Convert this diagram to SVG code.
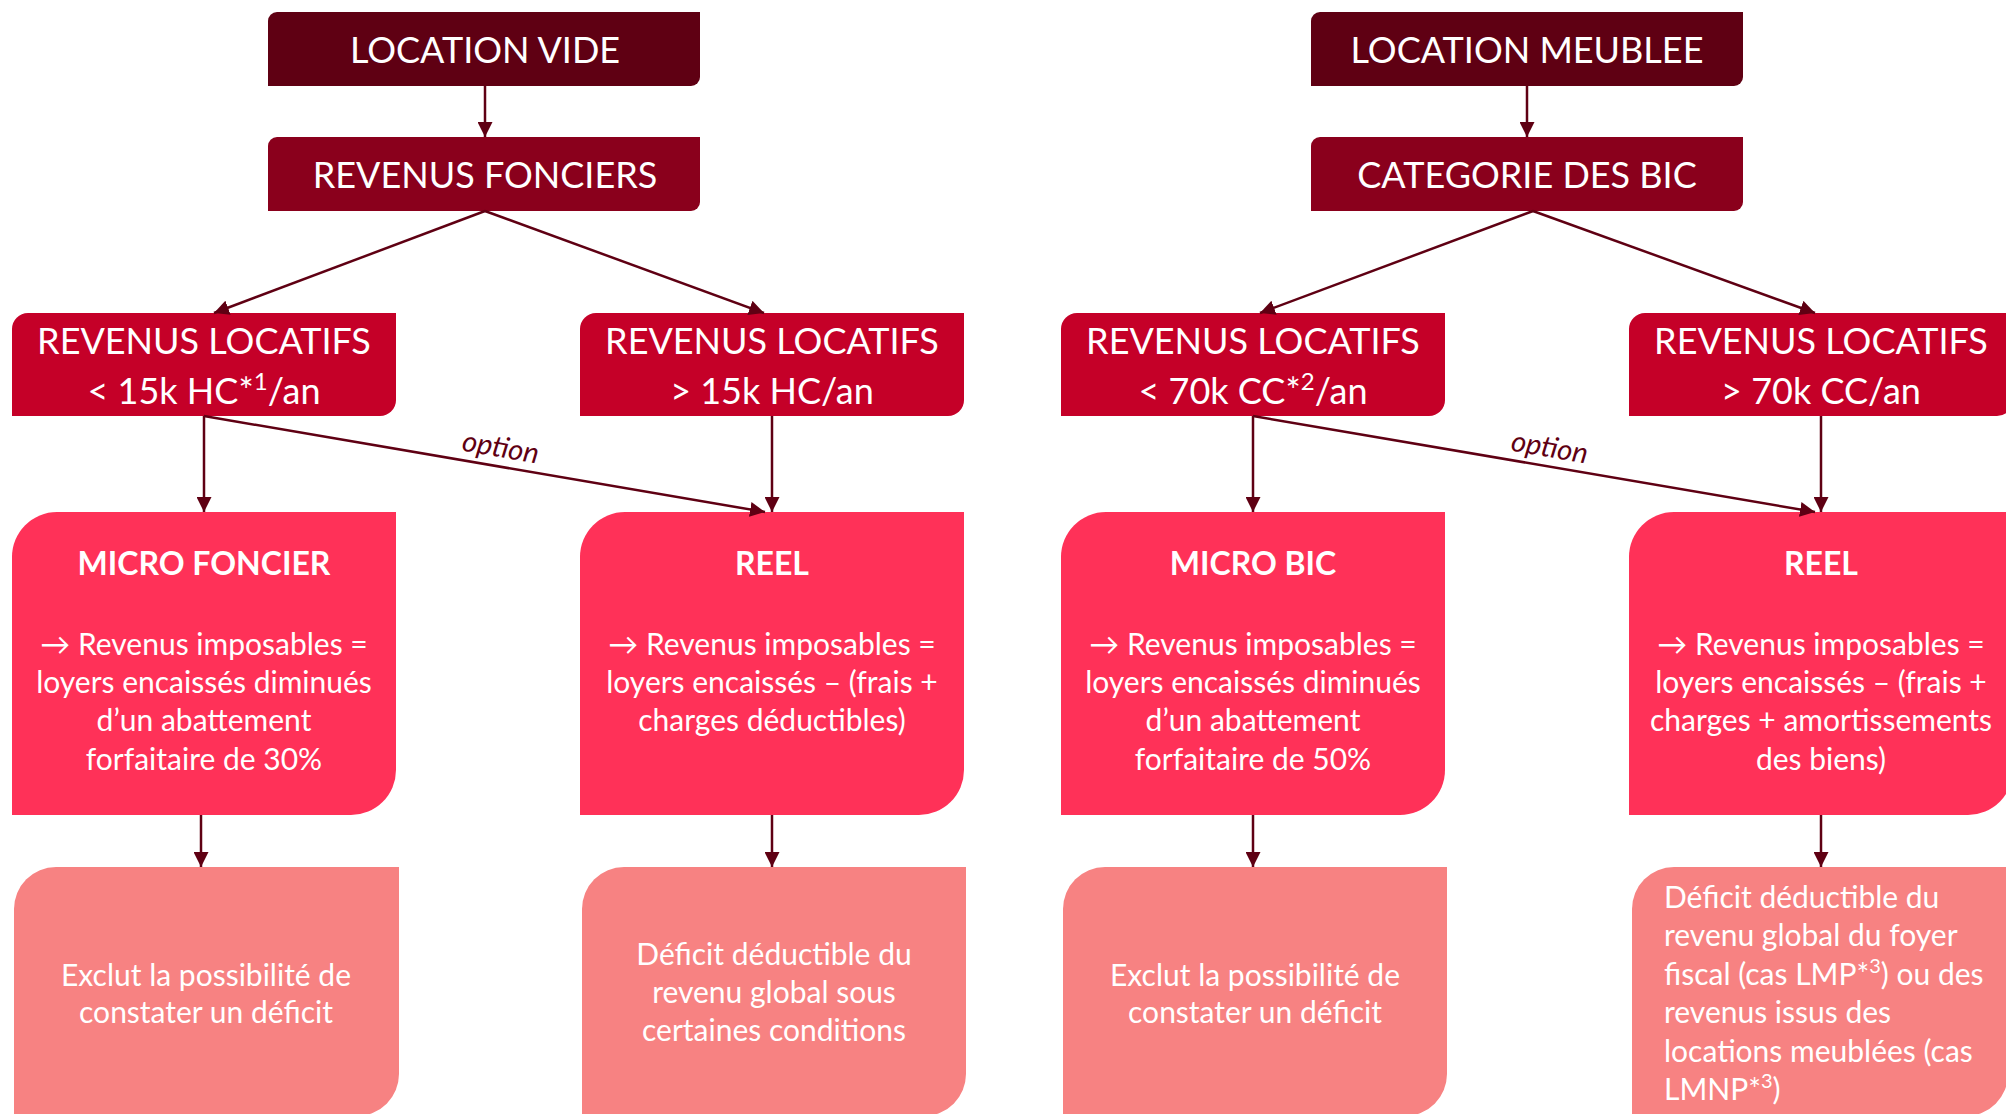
<svg xmlns="http://www.w3.org/2000/svg" width="2006" height="1114" viewBox="0 0 2006 1114">
<style>
text{font-family:Lato,"Open Sans","Liberation Sans",sans-serif;fill:#fff;text-anchor:middle}
.h{font-size:36px}
.t{font-size:32px;font-weight:bold}
.b{font-size:30px}
.l{text-anchor:start}
.o{font-size:29px;font-style:italic;fill:#5f0013}
.c1{fill:#5f0013}.c2{fill:#8a001c}.c3{fill:#c50028}.c4{fill:#ff3158}.c5{fill:#f78282}
.cn line{stroke:#5f0013;stroke-width:2.5;marker-end:url(#ah)}
</style>
<defs>
<marker id="ah" markerUnits="userSpaceOnUse" markerWidth="15" markerHeight="15" viewBox="0 0 15 15" refX="15" refY="7.5" orient="auto">
<path d="M0,0 L15,7.5 L0,15 Z" fill="#5f0013"/>
</marker>
</defs>
<rect width="2006" height="1114" fill="#fff"/>

<g id="location-vide"><path class="c1" d="M277,12 H700 V77 A9,9 0 0 1 691,86 H268 V21 A9,9 0 0 1 277,12 Z"/><text class="h" x="485" y="63">LOCATION VIDE</text></g>
<g id="revenus-fonciers"><path class="c2" d="M277,137 H700 V202 A9,9 0 0 1 691,211 H268 V146 A9,9 0 0 1 277,137 Z"/><text class="h" x="485" y="188">REVENUS FONCIERS</text></g>
<g id="location-meublee"><path class="c1" d="M1320,12 H1743 V77 A9,9 0 0 1 1734,86 H1311 V21 A9,9 0 0 1 1320,12 Z"/><text class="h" x="1527" y="63">LOCATION MEUBLEE</text></g>
<g id="categorie-bic"><path class="c2" d="M1320,137 H1743 V202 A9,9 0 0 1 1734,211 H1311 V146 A9,9 0 0 1 1320,137 Z"/><text class="h" x="1527" y="188">CATEGORIE DES BIC</text></g>

<g id="rl-15-inf"><path class="c3" d="M28,313 H396 V400 A16,16 0 0 1 380,416 H12 V329 A16,16 0 0 1 28,313 Z"/><text class="h" x="204" y="354">REVENUS LOCATIFS</text><text class="h" x="204" y="404">&lt; 15k HC*<tspan font-size="24" dy="-14">1</tspan><tspan dy="14">/an</tspan></text></g>
<g id="rl-15-sup"><path class="c3" d="M596,313 H964 V400 A16,16 0 0 1 948,416 H580 V329 A16,16 0 0 1 596,313 Z"/><text class="h" x="772" y="354">REVENUS LOCATIFS</text><text class="h" x="772" y="404">&gt; 15k HC/an</text></g>
<g id="rl-70-inf"><path class="c3" d="M1077,313 H1445 V400 A16,16 0 0 1 1429,416 H1061 V329 A16,16 0 0 1 1077,313 Z"/><text class="h" x="1253" y="354">REVENUS LOCATIFS</text><text class="h" x="1253" y="404">&lt; 70k CC*<tspan font-size="24" dy="-14">2</tspan><tspan dy="14">/an</tspan></text></g>
<g id="rl-70-sup"><path class="c3" d="M1645,313 H2013 V400 A16,16 0 0 1 1997,416 H1629 V329 A16,16 0 0 1 1645,313 Z"/><text class="h" x="1821" y="354">REVENUS LOCATIFS</text><text class="h" x="1821" y="404">&gt; 70k CC/an</text></g>

<g id="micro-foncier"><path class="c4" d="M57,512 H396 V770 A45,45 0 0 1 351,815 H12 V557 A45,45 0 0 1 57,512 Z"/>
<text class="t" x="204" y="575">MICRO FONCIER</text>
<text class="b" x="204" y="655">→ Revenus imposables =</text>
<text class="b" x="204" y="693">loyers encaissés diminués</text>
<text class="b" x="204" y="731">d’un abattement</text>
<text class="b" x="204" y="770">forfaitaire de 30%</text></g>
<g id="reel-foncier"><path class="c4" d="M625,512 H964 V770 A45,45 0 0 1 919,815 H580 V557 A45,45 0 0 1 625,512 Z"/>
<text class="t" x="772" y="575">REEL</text>
<text class="b" x="772" y="655">→ Revenus imposables =</text>
<text class="b" x="772" y="693">loyers encaissés – (frais +</text>
<text class="b" x="772" y="731">charges déductibles)</text></g>
<g id="micro-bic"><path class="c4" d="M1106,512 H1445 V770 A45,45 0 0 1 1400,815 H1061 V557 A45,45 0 0 1 1106,512 Z"/>
<text class="t" x="1253" y="575">MICRO BIC</text>
<text class="b" x="1253" y="655">→ Revenus imposables =</text>
<text class="b" x="1253" y="693">loyers encaissés diminués</text>
<text class="b" x="1253" y="731">d’un abattement</text>
<text class="b" x="1253" y="770">forfaitaire de 50%</text></g>
<g id="reel-bic"><path class="c4" d="M1674,512 H2013 V770 A45,45 0 0 1 1968,815 H1629 V557 A45,45 0 0 1 1674,512 Z"/>
<text class="t" x="1821" y="575">REEL</text>
<text class="b" x="1821" y="655">→ Revenus imposables =</text>
<text class="b" x="1821" y="693">loyers encaissés – (frais +</text>
<text class="b" x="1821" y="731">charges + amortissements</text>
<text class="b" x="1821" y="770">des biens)</text></g>

<g id="deficit-micro-foncier"><path class="c5" d="M56,867 H399 V1074 A42,42 0 0 1 357,1116 H14 V909 A42,42 0 0 1 56,867 Z"/>
<text class="b" x="206" y="986">Exclut la possibilité de</text>
<text class="b" x="206" y="1023">constater un déficit</text></g>
<g id="deficit-reel-foncier"><path class="c5" d="M624,867 H966 V1074 A42,42 0 0 1 924,1116 H582 V909 A42,42 0 0 1 624,867 Z"/>
<text class="b" x="774" y="965">Déficit déductible du</text>
<text class="b" x="774" y="1003">revenu global sous</text>
<text class="b" x="774" y="1041">certaines conditions</text></g>
<g id="deficit-micro-bic"><path class="c5" d="M1105,867 H1447 V1074 A42,42 0 0 1 1405,1116 H1063 V909 A42,42 0 0 1 1105,867 Z"/>
<text class="b" x="1255" y="986">Exclut la possibilité de</text>
<text class="b" x="1255" y="1023">constater un déficit</text></g>
<g id="deficit-reel-bic"><path class="c5" d="M1674,867 H2008 V1074 A42,42 0 0 1 1966,1116 H1632 V909 A42,42 0 0 1 1674,867 Z"/>
<text class="b l" x="1664" y="908">Déficit déductible du</text>
<text class="b l" x="1664" y="946">revenu global du foyer</text>
<text class="b l" x="1664" y="985">fiscal (cas LMP*<tspan font-size="20" dy="-12">3</tspan><tspan dy="12">) ou des</tspan></text>
<text class="b l" x="1664" y="1023">revenus issus des</text>
<text class="b l" x="1664" y="1062">locations meublées (cas</text>
<text class="b l" x="1664" y="1100">LMNP*<tspan font-size="20" dy="-12">3</tspan><tspan dy="12">)</tspan></text></g>

<g id="connectors" class="cn">
<line x1="485" y1="86" x2="485" y2="137"/>
<line x1="1527" y1="86" x2="1527" y2="137"/>
<line x1="485" y1="211" x2="214" y2="313"/>
<line x1="485" y1="211" x2="764" y2="313"/>
<line x1="1533" y1="211" x2="1260" y2="313"/>
<line x1="1533" y1="211" x2="1815" y2="313"/>
<line x1="204" y1="416" x2="204" y2="512"/>
<line x1="772" y1="416" x2="772" y2="512"/>
<line x1="204" y1="416" x2="765" y2="512"/>
<line x1="1253" y1="416" x2="1253" y2="512"/>
<line x1="1821" y1="416" x2="1821" y2="512"/>
<line x1="1253" y1="416" x2="1815" y2="512"/>
<line x1="201" y1="815" x2="201" y2="867"/>
<line x1="772" y1="815" x2="772" y2="867"/>
<line x1="1253" y1="815" x2="1253" y2="867"/>
<line x1="1821" y1="815" x2="1821" y2="867"/>
<text class="o" x="499" y="457" transform="rotate(9.7 499 457)">option</text>
<text class="o" x="1548" y="457" transform="rotate(9.7 1548 457)">option</text>
</g>
</svg>
